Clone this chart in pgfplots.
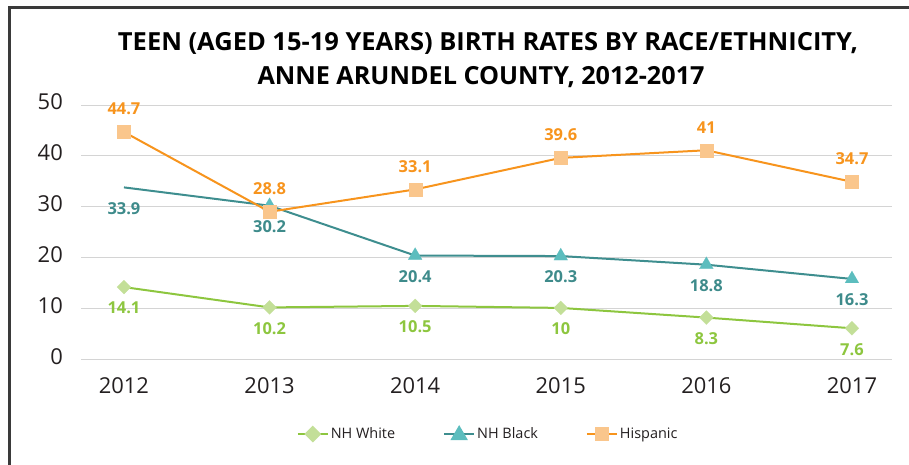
\documentclass[border=0pt]{standalone}
\usepackage{fontspec}
\setmainfont{Open Sans}
\usepackage{graphicx}
\usepackage{pgfplots}
\pgfplotsset{compat=1.18}
\definecolor{gline}{HTML}{8DC63F}
\definecolor{gmark}{HTML}{C3DF98}
\definecolor{tline}{HTML}{3E8E8F}
\definecolor{tmark}{HTML}{5CBDBE}
\definecolor{tlab}{HTML}{3E8B8B}
\definecolor{oline}{HTML}{F7941D}
\definecolor{omark}{HTML}{FAC68C}
\definecolor{gridc}{HTML}{D4D4D4}
\definecolor{tickc}{HTML}{231F20}
\definecolor{framec}{HTML}{3A3A3A}
\begin{document}
\begin{tikzpicture}
\path[use as bounding box] (0bp,0bp) rectangle (909bp,465bp);
\draw[color=framec, line width=3bp] (9bp,0bp) -- (9bp,457bp) -- (909bp,457bp);
\node[anchor=base, inner sep=0pt] at (488bp,414bp) {\resizebox{740bp}{\height}{\fontsize{25}{30}\selectfont\bfseries TEEN (AGED 15-19 YEARS) BIRTH RATES BY RACE/ETHNICITY,}};
\node[anchor=base, inner sep=0pt] at (481bp,380bp) {\resizebox{447bp}{\height}{\fontsize{25}{30}\selectfont\bfseries ANNE ARUNDEL COUNTY, 2012-2017}};
\begin{axis}[
  at={(81bp,105.7bp)}, anchor=south west,
  scale only axis, width=811bp, height=254.3bp,
  xmin=2011.705, xmax=2017.275, ymin=0, ymax=50,
  xtick={2012,2013,2014,2015,2016,2017},
  xticklabels={2012,2013,2014,2015,2016,2017},
  ytick={0,10,20,30,40,50},
  axis line style={draw=none},
  major tick length=0pt,
  ymajorgrids, grid style={color=gridc, line width=1bp},
  /pgf/number format/assume math mode=true,
  tick label style={font=\fontsize{22}{26}\selectfont, text=tickc},
  yticklabel style={anchor=east, inner sep=0pt, xshift=-18bp, yshift=3bp},
  xticklabel style={anchor=north, inner sep=0pt, yshift=-18bp},
  clip=false,
  legend columns=3,
  legend cell align=left,
  legend style={at={(0.502,-0.294)}, anchor=center, draw=none, fill=none,
    font=\fontsize{14.5}{17}\selectfont, text=tickc,
    /tikz/every even column/.append style={column sep=46bp}},
]
% NH White
\addplot[gmark, only marks, mark=diamond*, mark size=7bp, mark options={draw=gmark, fill=gmark, line width=0.1pt, xscale=1.33}, forget plot]
  table[x=x,y=y]{
x y
2012 14.2
2013 10.2
2014 10.5
2015 10.1
2016 8.2
2017 6.1
};
\addplot[gline, line width=2bp, no marks, nodes near coords, point meta=explicit symbolic,
  every node near coord/.style={font=\fontsize{16.5}{20}\selectfont\bfseries, text=gline, anchor=north, inner sep=0pt, yshift=-14bp},
  legend image code/.code={\draw[gline, line width=2bp] (0bp,0bp) -- (30bp,0bp); \fill[gmark] (15bp,7bp) -- (22bp,0bp) -- (15bp,-7bp) -- (8bp,0bp) -- cycle;}]
  table[x=x,y=y,meta=lab]{
x y lab
2012 14.2 14.1
2013 10.2 10.2
2014 10.5 10.5
2015 10.1 10
2016 8.2 8.3
2017 6.1 7.6
};
\addlegendentry{NH White}
% NH Black
\addplot[tmark, only marks, mark=triangle*, mark size=8bp, mark options={draw=tmark, fill=tmark, line width=0.1pt}, forget plot]
  table[x=x,y=y]{
x y
2013 30.2
2014 20.4
2015 20.3
2016 18.6
2017 15.8
};
\addplot[tline, line width=2bp, no marks, nodes near coords, point meta=explicit symbolic,
  every node near coord/.style={font=\fontsize{16.5}{20}\selectfont\bfseries, text=tlab, anchor=north, inner sep=0pt, yshift=-14bp},
  legend image code/.code={\draw[tline, line width=2bp] (0bp,0bp) -- (30bp,0bp); \fill[tmark] (15bp,7bp) -- (22bp,-5bp) -- (8bp,-5bp) -- cycle;}]
  table[x=x,y=y,meta=lab]{
x y lab
2012 33.8 33.9
2013 30.2 30.2
2014 20.4 20.4
2015 20.3 20.3
2016 18.6 18.8
2017 15.8 16.3
};
\addlegendentry{NH Black}
% Hispanic
\addplot[omark, only marks, mark=square*, mark size=6.5bp, mark options={draw=omark, fill=omark, line width=0.1pt}, forget plot]
  table[x=x,y=y]{
x y
2012 44.7
2013 29.0
2014 33.4
2015 39.6
2016 41.1
2017 34.9
};
\addplot[oline, line width=2bp, no marks, nodes near coords, point meta=explicit symbolic,
  every node near coord/.style={font=\fontsize{16.5}{20}\selectfont\bfseries, text=oline, anchor=base, inner sep=0pt, yshift=17bp},
  legend image code/.code={\draw[oline, line width=2bp] (0bp,0bp) -- (30bp,0bp); \fill[omark] (9bp,-6bp) rectangle (21bp,6bp);}]
  table[x=x,y=y,meta=lab]{
x y lab
2012 44.7 44.7
2013 29.0 28.8
2014 33.4 33.1
2015 39.6 39.6
2016 41.1 41
2017 34.9 34.7
};
\addlegendentry{Hispanic}
\end{axis}
\end{tikzpicture}
\end{document}
